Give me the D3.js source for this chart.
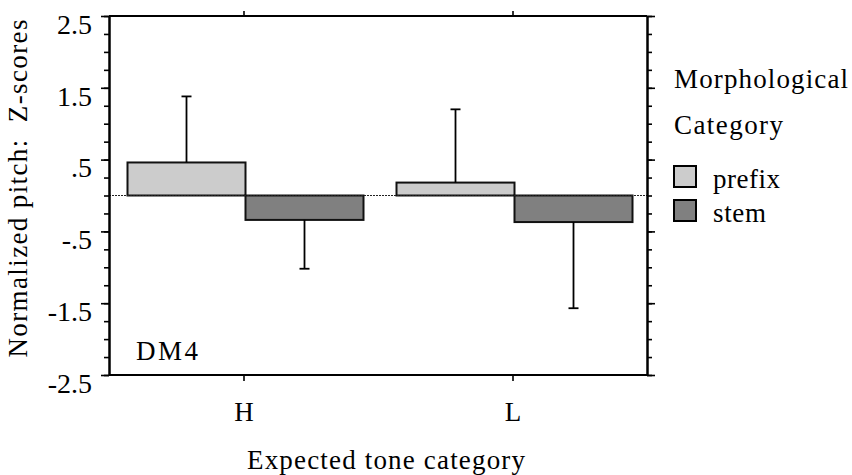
<!DOCTYPE html>
<html>
<head>
<meta charset="utf-8">
<script src="https://cdn.jsdelivr.net/npm/d3@7/dist/d3.min.js"></script>
<style>
  body { margin: 0; background: #fff; }
</style>
</head>
<body>
<svg id="chart" width="852" height="475"></svg>
<script>
// data
var categories = ["H", "L"];
var groups = ["prefix", "stem"];
var prefixMean = [0.46, 0.18];
var prefixErr  = [0.92, 1.02];
var stemMean   = [-0.34, -0.37];
var stemErr    = [0.68, 1.20];
var majorTicks = [2.5, 1.5, 0.5, -0.5, -1.5, -2.5];
var minorTicks = d3.range(-2.5, 2.51, 0.25);
var fills = {prefix: "#cccccc", stem: "#808080"};

var FONT = "'Liberation Serif'";

var svg = d3.select("#chart");

// plot frame (note: "top" is reserved on window, so use plot* names)
var plotLeft = 109, plotRight = 647, plotTop = 16, plotBottom = 375;

var y = d3.scaleLinear().domain([-2.5, 2.5]).range([plotBottom, plotTop]);
var x0 = d3.scaleBand().domain(categories).range([plotLeft, plotRight]);
var x1 = d3.scaleBand().domain(groups).range([18.5, 254.5]);

var rows = [];
categories.forEach(function(c, i) {
  rows.push({cat: c, grp: "prefix", v: prefixMean[i], e: prefixErr[i]});
  rows.push({cat: c, grp: "stem", v: stemMean[i], e: stemErr[i]});
});

// strip leading zero like ".5" / "-.5"
function fmt(d) {
  return String(d).replace(/^(-?)0\./, "$1.");
}

// text helper
function label(parent, str, x, yy, size, len) {
  var t = parent.append("text")
    .attr("x", x).attr("y", yy)
    .style("font-family", FONT)
    .style("font-size", size + "px")
    .style("fill", "#000")
    .text(str);
  if (len) t.attr("textLength", len).attr("lengthAdjust", "spacing");
  return t;
}

// bars
var bars = svg.append("g");
bars.selectAll("rect")
  .data(rows)
  .enter().append("rect")
  .attr("x", function(d) { return x0(d.cat) + x1(d.grp); })
  .attr("width", x1.bandwidth())
  .attr("y", function(d) { return y(Math.max(0, d.v)); })
  .attr("height", function(d) { return Math.abs(y(d.v) - y(0)); })
  .style("fill", function(d) { return fills[d.grp]; })
  .style("stroke", "#111")
  .style("stroke-width", 2);

// error bars, pointing away from zero
var err = svg.append("g").style("stroke", "#000").style("stroke-width", 1.8);
rows.forEach(function(d) {
  var cx = x0(d.cat) + x1(d.grp) + x1.bandwidth() / 2;
  var end = d.v >= 0 ? d.v + d.e : d.v - d.e;
  err.append("line")
    .attr("x1", cx).attr("x2", cx)
    .attr("y1", y(d.v)).attr("y2", y(end));
  err.append("line")
    .attr("x1", cx - 5).attr("x2", cx + 5)
    .attr("y1", y(end)).attr("y2", y(end));
});

// dotted zero line
svg.append("line")
  .attr("x1", plotLeft).attr("x2", plotRight)
  .attr("y1", y(0)).attr("y2", y(0))
  .style("stroke", "#222")
  .style("stroke-width", 1)
  .style("stroke-dasharray", "2,1");

function styleAxis(g) {
  g.selectAll(".domain").style("stroke", "#000").style("stroke-width", 2);
  g.selectAll(".tick line").style("stroke", "#000").style("stroke-width", 1.6);
  g.selectAll("text").style("font-family", FONT).style("fill", "#000");
}

// left axis: minor and major ticks
svg.append("g")
  .attr("transform", "translate(" + plotLeft + ",0)")
  .call(d3.axisLeft(y).tickValues(minorTicks).tickSize(5).tickSizeOuter(0).tickFormat(""))
  .call(styleAxis);

var yl = svg.append("g")
  .attr("transform", "translate(" + plotLeft + ",0)")
  .call(d3.axisLeft(y).tickValues(majorTicks).tickSize(8).tickSizeOuter(0).tickPadding(9).tickFormat(fmt))
  .call(styleAxis);
yl.selectAll("text")
  .attr("dy", "0.62em")
  .style("font-size", "28px");

// right axis
svg.append("g")
  .attr("transform", "translate(" + plotRight + ",0)")
  .call(d3.axisRight(y).tickValues(minorTicks).tickSize(5).tickSizeOuter(0).tickFormat(""))
  .call(styleAxis);
svg.append("g")
  .attr("transform", "translate(" + plotRight + ",0)")
  .call(d3.axisRight(y).tickValues(majorTicks).tickSize(8).tickSizeOuter(0).tickFormat(""))
  .call(styleAxis);

// top and bottom axes, ticks at category centres
var catX = d3.scalePoint()
  .domain(categories)
  .range([x0("H") + x0.bandwidth() / 2, x0("L") + x0.bandwidth() / 2]);

svg.append("g")
  .attr("transform", "translate(0," + plotTop + ")")
  .call(d3.axisTop(catX).tickSize(5).tickSizeOuter(0).tickFormat(""))
  .call(styleAxis)
  .select(".domain").remove();
svg.append("line")
  .attr("x1", plotLeft).attr("x2", plotRight).attr("y1", plotTop).attr("y2", plotTop)
  .style("stroke", "#000").style("stroke-width", 2);

var xb = svg.append("g")
  .attr("transform", "translate(0," + plotBottom + ")")
  .call(d3.axisBottom(catX).tickSize(6).tickSizeOuter(0))
  .call(styleAxis);
xb.select(".domain").remove();
xb.selectAll("text")
  .attr("y", 45.5)
  .attr("dy", null)
  .style("font-size", "27px");
svg.append("line")
  .attr("x1", plotLeft).attr("x2", plotRight).attr("y1", plotBottom).attr("y2", plotBottom)
  .style("stroke", "#000").style("stroke-width", 2);

// titles
label(svg, "Normalized pitch:  Z-scores", 0, 0, 27, 338)
  .attr("transform", "translate(27,188.5) rotate(-90)")
  .attr("text-anchor", "middle")
  .style("white-space", "pre");

label(svg, "Expected tone category", 247, 469, 27, 278);

label(svg, "DM4", 136, 360, 27, 62);

// legend
var legend = svg.append("g");
label(legend, "Morphological", 674, 88, 27, 174);
label(legend, "Category", 674, 134, 27, 109);

var legY = d3.scalePoint().domain(groups).range([166, 200]);
var legLen = {prefix: 67, stem: 53};
groups.forEach(function(g) {
  legend.append("rect")
    .attr("x", 674).attr("y", legY(g))
    .attr("width", 22).attr("height", 21)
    .style("fill", fills[g])
    .style("stroke", "#000")
    .style("stroke-width", 2);
  label(legend, g, 713, legY(g) + 22, 27, legLen[g]);
});
</script>
</body>
</html>
